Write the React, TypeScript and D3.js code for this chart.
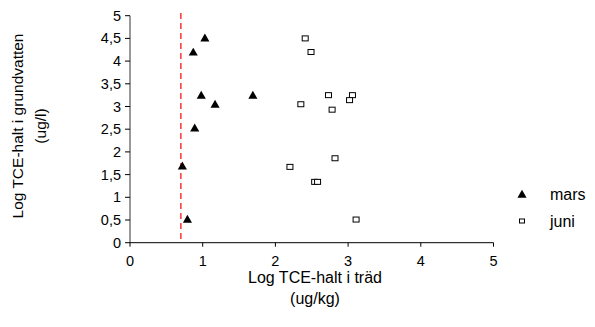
import React from "react";
import * as d3 from "d3";

const xTicks = [0, 1, 2, 3, 4, 5];
const yTicks = [0, 0.5, 1, 1.5, 2, 2.5, 3, 3.5, 4, 4.5, 5];
const limitX = 0.7;

const mars = [
  { x: 1.03, y: 4.49 },
  { x: 0.87, y: 4.18 },
  { x: 0.98, y: 3.23 },
  { x: 1.69, y: 3.23 },
  { x: 1.17, y: 3.03 },
  { x: 0.89, y: 2.51 },
  { x: 0.72, y: 1.67 },
  { x: 0.79, y: 0.5 },
];

const juni = [
  { x: 2.41, y: 4.5 },
  { x: 2.49, y: 4.2 },
  { x: 2.73, y: 3.25 },
  { x: 3.06, y: 3.25 },
  { x: 3.02, y: 3.14 },
  { x: 2.35, y: 3.05 },
  { x: 2.78, y: 2.93 },
  { x: 2.2, y: 1.67 },
  { x: 2.82, y: 1.86 },
  { x: 2.54, y: 1.34 },
  { x: 2.58, y: 1.34 },
  { x: 3.11, y: 0.51 },
];

const fmt = (v: number) => String(v).replace(".", ",");
const font = "Arial, 'Liberation Sans', sans-serif";

export default function App() {
  const width = 595;
  const height = 327;
  const x = d3.scaleLinear().domain([0, 5]).range([130, 493.5]);
  const y = d3.scaleLinear().domain([0, 5]).range([242.7, 15.7]);
  const tri = d3.symbol().type(d3.symbolTriangle).size(36)() || "";

  return (
    <svg
      width={width}
      height={height}
      style={{ position: "absolute", left: 0, top: 0, background: "#fff" }}
      fontFamily={font}
    >
      {/* y axis */}
      <line x1={x(0)} x2={x(0)} y1={y(5)} y2={y(0)} stroke="#777" strokeWidth={1.5} />
      {yTicks.map((t) => (
        <g key={"y" + t}>
          <line x1={x(0) - 5} x2={x(0)} y1={y(t)} y2={y(t)} stroke="#000" />
          <text x={x(0) - 9} y={y(t)} dy="0.35em" textAnchor="end" fontSize={14.5}>
            {fmt(t)}
          </text>
        </g>
      ))}
      {/* x axis */}
      <line x1={x(0)} x2={x(5)} y1={y(0)} y2={y(0)} stroke="#000" />
      {xTicks.map((t) => (
        <g key={"x" + t}>
          <line x1={x(t)} x2={x(t)} y1={y(0)} y2={y(0) + 4} stroke="#000" />
          <text x={x(t)} y={y(0) + 23} textAnchor="middle" fontSize={14.5}>
            {fmt(t)}
          </text>
        </g>
      ))}
      {/* reference line */}
      <line
        x1={x(limitX)}
        x2={x(limitX)}
        y1={13}
        y2={y(0)}
        stroke="#ff0000"
        strokeWidth={1.2}
        strokeDasharray="6,4"
      />
      {mars.map((d, i) => (
        <path key={"m" + i} d={tri} transform={`translate(${x(d.x)},${y(d.y)})`} fill="#000" />
      ))}
      {juni.map((d, i) => (
        <rect
          key={"j" + i}
          x={x(d.x) - 3}
          y={y(d.y) - 2.5}
          width={6}
          height={5}
          fill="#fff"
          stroke="#000"
          strokeWidth={1}
        />
      ))}
      {/* axis titles */}
      <text x={315} y={283} textAnchor="middle" fontSize={16}>
        Log TCE-halt i träd
      </text>
      <text x={315} y={304} textAnchor="middle" fontSize={16}>
        (ug/kg)
      </text>
      <g transform="translate(23,126) rotate(-90)">
        <text x={0} y={0} textAnchor="middle" fontSize={15.5}>
          Log TCE-halt i grundvatten
        </text>
        <text x={0} y={23} textAnchor="middle" fontSize={15.5}>
          (ug/l)
        </text>
      </g>
      {/* legend */}
      <path d={tri} transform="translate(522,195)" fill="#000" />
      <text x={550} y={200} fontSize={16}>
        mars
      </text>
      <rect x={519.5} y={219} width={5} height={4} fill="#fff" stroke="#000" />
      <text x={550} y={227} fontSize={16}>
        juni
      </text>
    </svg>
  );
}
